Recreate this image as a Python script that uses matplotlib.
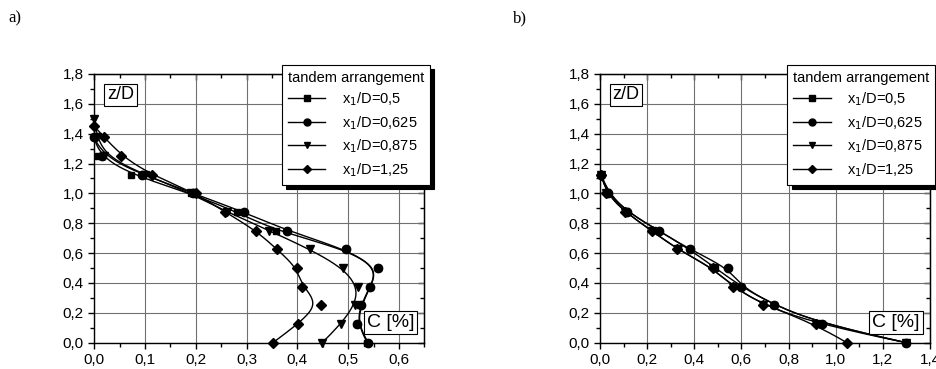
import numpy as np
import matplotlib
matplotlib.use("Agg")
import matplotlib.pyplot as plt
from matplotlib.ticker import MultipleLocator, FuncFormatter

plt.rcParams['font.family'] = ['Liberation Sans', 'DejaVu Sans']

# Données (z/D en ordonnée, C [%] en abscisse)
labels = ["x$_1$/D=0,5", "x$_1$/D=0,625", "x$_1$/D=0,875", "x$_1$/D=1,25"]
markers = ["s", "o", "v", "D"]

# a) profils
z_a_sq = [0.0, 0.125, 0.25, 0.375, 0.5, 0.625, 0.75, 0.875, 1.0, 1.125, 1.25, 1.375]
c_a_sq = [0.538, 0.517, 0.524, 0.544, 0.558, 0.496, 0.358, 0.281, 0.19, 0.072, 0.008, 0.0]
z_a_ci = [0.0, 0.125, 0.25, 0.375, 0.5, 0.625, 0.75, 0.875, 1.0, 1.125, 1.25, 1.375]
c_a_ci = [0.54, 0.517, 0.526, 0.544, 0.559, 0.496, 0.38, 0.295, 0.195, 0.095, 0.015, 0.0]
z_a_tr = [0.0, 0.125, 0.25, 0.375, 0.5, 0.625, 0.75, 0.875, 1.0, 1.125, 1.25, 1.375, 1.5]
c_a_tr = [0.449, 0.486, 0.514, 0.519, 0.49, 0.425, 0.345, 0.262, 0.19, 0.1, 0.02, 0.005, 0.0]
z_a_di = [0.0, 0.125, 0.25, 0.375, 0.5, 0.625, 0.75, 0.875, 1.0, 1.125, 1.25, 1.375, 1.45]
c_a_di = [0.352, 0.401, 0.447, 0.409, 0.40, 0.36, 0.319, 0.258, 0.2, 0.113, 0.053, 0.02, 0.0]

# b) profils
z_b = [0.0, 0.125, 0.25, 0.375, 0.5, 0.625, 0.75, 0.875, 1.0, 1.125]
c_b_sq = [1.30, 0.94, 0.74, 0.60, 0.49, 0.38, 0.25, 0.115, 0.03, 0.005]
c_b_ci = [1.30, 0.94, 0.74, 0.60, 0.545, 0.38, 0.25, 0.115, 0.035, 0.005]
c_b_tr = [1.30, 0.915, 0.693, 0.566, 0.478, 0.33, 0.22, 0.106, 0.025, 0.005]
c_b_di = [1.047, 0.915, 0.693, 0.566, 0.478, 0.328, 0.219, 0.106, 0.025, 0.005]

series_a = [(c_a_sq, z_a_sq), (c_a_ci, z_a_ci), (c_a_tr, z_a_tr), (c_a_di, z_a_di)]
series_b = [(c_b_sq, z_b), (c_b_ci, z_b), (c_b_tr, z_b), (c_b_di, z_b)]


#B-spline cubique (les points servent de points de controle, comme dans Origin)
def bspline(px, py, npts=300, k=3):
    P = np.column_stack([px, py]).astype(float)
    n = len(P)
    kn = np.r_[np.zeros(k), np.linspace(0, 1, n - k + 1), np.ones(k)]
    out = []
    for t in np.linspace(0, 1, npts):
        s = min(np.searchsorted(kn, t, side='right') - 1, n - 1)
        d = [P[j + s - k].copy() for j in range(k + 1)]
        for r in range(1, k + 1):
            for j in range(k, r - 1, -1):
                den = kn[j + 1 + s - r] - kn[j + s - k]
                a = 0 if den == 0 else (t - kn[j + s - k]) / den
                d[j] = (1 - a) * d[j - 1] + a * d[j]
        out.append(d[k])
    out = np.array(out)
    return out[:, 0], out[:, 1]


comma = FuncFormatter(lambda v, p: f"{v:.1f}".replace(".", ","))

fig = plt.figure(figsize=(9.36, 3.69), dpi=100)
ax_a = fig.add_axes([0.1007, 0.0713, 0.3526, 0.7282])
ax_b = fig.add_axes([0.641, 0.0713, 0.3526, 0.7282])

for ax, series, xmax, xmaj, xmin in [(ax_a, series_a, 0.65, 0.1, 0.05),
                                      (ax_b, series_b, 1.4, 0.2, 0.1)]:
    for (c, z), m, lab in zip(series, markers, labels):
        xs, ys = bspline(c, z)
        ax.plot(xs, ys, color="black", lw=1.0, zorder=3)
        ax.plot(c, z, linestyle="none", marker=m, color="black",
                markersize={"s": 5, "o": 6, "v": 5.5, "D": 5}[m],
                zorder=4, clip_on=False)
        # poignée de légende (ligne + marqueur)
        ax.plot([], [], color="black", lw=1.0, marker=m,
                markersize=5 if m != "D" else 4.5, label=lab)
    ax.set_xlim(0, xmax)
    ax.set_ylim(0, 1.8)
    ax.xaxis.set_major_locator(MultipleLocator(xmaj))
    ax.xaxis.set_minor_locator(MultipleLocator(xmin))
    ax.yaxis.set_major_locator(MultipleLocator(0.2))
    ax.yaxis.set_minor_locator(MultipleLocator(0.1))
    ax.xaxis.set_major_formatter(comma)
    ax.yaxis.set_major_formatter(comma)
    ax.tick_params(which="both", direction="out", labelsize=11, width=1)
    ax.tick_params(which="major", length=4)
    ax.tick_params(which="minor", length=3)
    ax.grid(True, which="major", color="#707070", lw=0.8)
    for sp in ax.spines.values():
        sp.set_linewidth(1.0)
    # graduations intérieures en haut et à droite
    sec_x = ax.secondary_xaxis("top")
    sec_x.xaxis.set_major_locator(MultipleLocator(xmaj))
    sec_x.xaxis.set_minor_locator(MultipleLocator(xmin))
    sec_x.tick_params(which="both", direction="in", labeltop=False, width=1)
    sec_x.tick_params(which="major", length=4)
    sec_x.tick_params(which="minor", length=3)
    sec_y = ax.secondary_yaxis("right")
    sec_y.yaxis.set_major_locator(MultipleLocator(0.2))
    sec_y.yaxis.set_minor_locator(MultipleLocator(0.1))
    sec_y.tick_params(which="both", direction="in", labelright=False, width=1)
    sec_y.tick_params(which="major", length=4)
    sec_y.tick_params(which="minor", length=3)

    ax.text(0.079, 0.922, "z/D", transform=ax.transAxes, fontsize=13,
            ha="center", va="center", zorder=6,
            bbox=dict(boxstyle="square,pad=0.15", fc="white", ec="black", lw=0.8))
    ax.text(0.897, 0.076, "C [%]", transform=ax.transAxes, fontsize=14,
            ha="center", va="center", zorder=6,
            bbox=dict(boxstyle="square,pad=0.15", fc="white", ec="black", lw=0.8))

    leg = ax.legend(loc="upper left", bbox_to_anchor=(0.568, 1.034),
                    title="tandem arrangement", fontsize=10.5, title_fontsize=10.5,
                    frameon=True, fancybox=False, edgecolor="black",
                    framealpha=1, handlelength=2.6, handletextpad=1.1,
                    labelspacing=0.4, borderpad=0.4, borderaxespad=0,
                    shadow={"ox": 3, "oy": -3, "color": "black", "alpha": 1})
    leg._legend_box.align = "left"
    leg.get_frame().set_linewidth(0.8)
    leg.set_zorder(10)

fig.text(0.009, 0.95, "a)", family="Liberation Serif", fontsize=12, va="center")
fig.text(0.548, 0.95, "b)", family="Liberation Serif", fontsize=12, va="center")

fig.savefig("out.png", dpi=100)
